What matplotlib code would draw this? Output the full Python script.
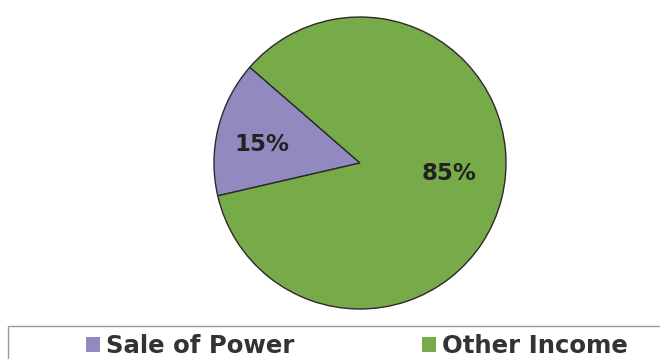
import matplotlib
matplotlib.use("Agg")
import matplotlib.pyplot as plt
from matplotlib.patches import Patch, Rectangle

# Income composition
categories = ["Sale of Power", "Other Income"]
shares = [15, 85]
colors = ["#9189bf", "#77ab4a"]

W, H = 660, 359
fig = plt.figure(figsize=(W / 100, H / 100), dpi=100)
fig.patch.set_facecolor("white")

# pie axes: centre (360, 163) px from top-left, radius 146 px
cx, cy, r = 360, 163, 146
ax = fig.add_axes([(cx - r) / W, (H - cy - r) / H, 2 * r / W, 2 * r / H])
wedges, texts, autotexts = ax.pie(
    shares,
    colors=colors,
    startangle=139,
    counterclock=True,
    autopct=lambda p: f"{p:.0f}%",
    pctdistance=0.66,
    wedgeprops=dict(edgecolor="#2a2a2a", linewidth=1.0),
    textprops=dict(fontsize=16.5, fontweight="bold", color="#222222",
                   family="DejaVu Sans"),
)
# percentage labels sit slightly off the wedge bisectors
label_pos = [(-0.67, 0.13), (0.61, -0.075)]
for t, p in zip(autotexts, label_pos):
    t.set_position(p)

ax.set_xlim(-1.0, 1.0)
ax.set_ylim(-1.0, 1.0)
ax.set_aspect("equal")
ax.axis("off")

# legend frame running off the right and bottom edges
fig.patches.append(Rectangle((8 / W, -0.1), 1.0, 0.1 + (H - 326) / H,
                             transform=fig.transFigure, facecolor="white",
                             edgecolor="#9a9a9a", linewidth=1.0, zorder=0))

handles = [Patch(facecolor=c, edgecolor="none") for c in colors]
fig.legend(handles, categories, ncol=2, loc="center",
           bbox_to_anchor=(357 / W, 1 - 346 / H), frameon=False,
           prop=dict(family="DejaVu Sans", weight="bold", size=17.6),
           handlelength=0.57, handleheight=0.57, handletextpad=0.25,
           columnspacing=5.2, labelcolor="#333333")

fig.savefig("out.png", dpi=100, facecolor="white")
